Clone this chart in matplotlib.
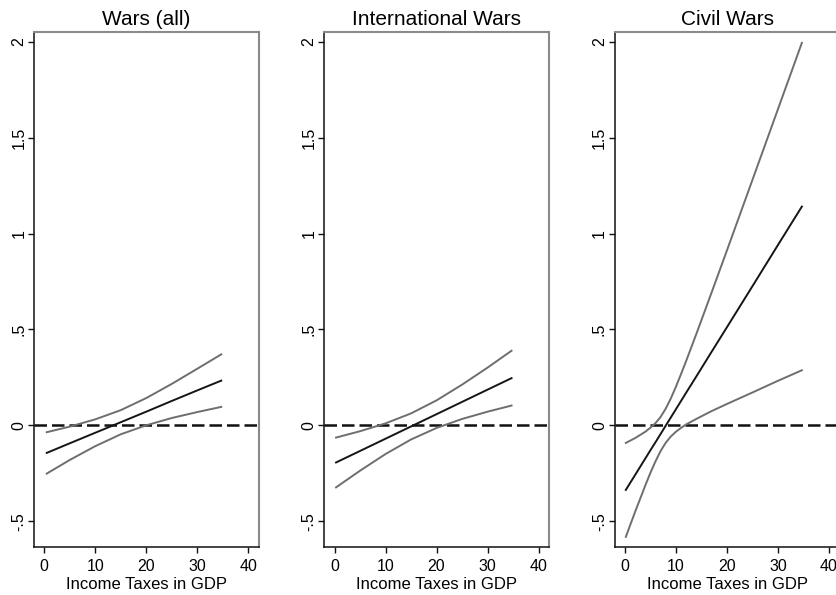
import matplotlib
matplotlib.use("Agg")
import matplotlib.pyplot as plt

plt.rcParams['font.family'] = ['Liberation Sans', 'DejaVu Sans']

titles = ["Wars (all)", "International Wars", "Civil Wars"]

# income taxes (share of GDP) where each curve was read
x_all = [0.5, 5, 10, 15, 20, 25, 30, 34.7]
mid_all = [-0.144, -0.094, -0.039, 0.016, 0.071, 0.127, 0.182, 0.233]
up_all = [-0.036, -0.007, 0.031, 0.079, 0.142, 0.216, 0.295, 0.370]
lo_all = [-0.252, -0.181, -0.109, -0.047, 0.000, 0.038, 0.069, 0.096]

x_int = [0.3, 5, 10, 15, 20, 25, 30, 34.7]
mid_int = [-0.194, -0.134, -0.070, -0.006, 0.058, 0.122, 0.186, 0.246]
up_int = [-0.064, -0.031, 0.010, 0.062, 0.130, 0.212, 0.301, 0.389]
lo_int = [-0.324, -0.237, -0.150, -0.074, -0.014, 0.033, 0.071, 0.103]

x_civ = [0.2, 2, 4, 5, 6, 7, 8, 9, 10, 11, 12, 14, 17, 20, 25, 30, 34.7]
mid_civ = [-0.337, -0.260, -0.174, -0.131, -0.089, -0.046, -0.003, 0.040, 0.083,
           0.126, 0.169, 0.254, 0.383, 0.511, 0.725, 0.940, 1.141]
up_civ = [-0.092, -0.067, -0.034, -0.013, 0.011, 0.043, 0.086, 0.139, 0.200,
          0.266, 0.334, 0.475, 0.692, 0.911, 1.279, 1.648, 1.995]
lo_civ = [-0.582, -0.453, -0.315, -0.249, -0.189, -0.135, -0.092, -0.059, -0.034,
          -0.014, 0.004, 0.033, 0.074, 0.111, 0.171, 0.232, 0.287]

panels = [(x_all, mid_all, up_all, lo_all),
          (x_int, mid_int, up_int, lo_int),
          (x_civ, mid_civ, up_civ, lo_civ)]

yticks = [-0.5, 0, 0.5, 1, 1.5, 2]
ylabels = ["-.5", "0", ".5", "1", "1.5", "2"]
xticks = [0, 10, 20, 30, 40]

fig = plt.figure(figsize=(8.36, 5.95), dpi=100)
lefts = [34, 324.3, 614.6]

for i, (xs, mid, up, lo) in enumerate(panels):
    ax = fig.add_axes([lefts[i] / 836, 48 / 595, 225 / 836, 515 / 595])
    ax.axhline(0, color='#111111', lw=1.8, ls=(0, (5, 2)), zorder=1)
    ax.plot(xs, up, color='#6e6e6e', lw=1.4)
    ax.plot(xs, lo, color='#6e6e6e', lw=1.4)
    ax.plot(xs, mid, color='#151515', lw=1.4)
    ax.set_xlim(-2, 42.1)
    ax.set_ylim(-0.635, 2.052)
    ax.set_xticks(xticks)
    ax.set_yticks(yticks)
    ax.set_yticklabels(ylabels, rotation=90, va='center')
    ax.tick_params(labelsize=11.5, length=4.5, width=1, color='#111111')
    ax.tick_params(axis='y', pad=1)
    ax.tick_params(axis='x', pad=4)
    ax.set_xlabel("Income Taxes in GDP", fontsize=12, labelpad=2)
    ax.set_title(titles[i], fontsize=15, pad=5)
    for s in ['left', 'bottom']:
        ax.spines[s].set_color('#111111')
        ax.spines[s].set_linewidth(1.1)
    for s in ['top', 'right']:
        ax.spines[s].set_color('#8a8a8a')
        ax.spines[s].set_linewidth(1.5)

fig.savefig("out.png", dpi=100)
